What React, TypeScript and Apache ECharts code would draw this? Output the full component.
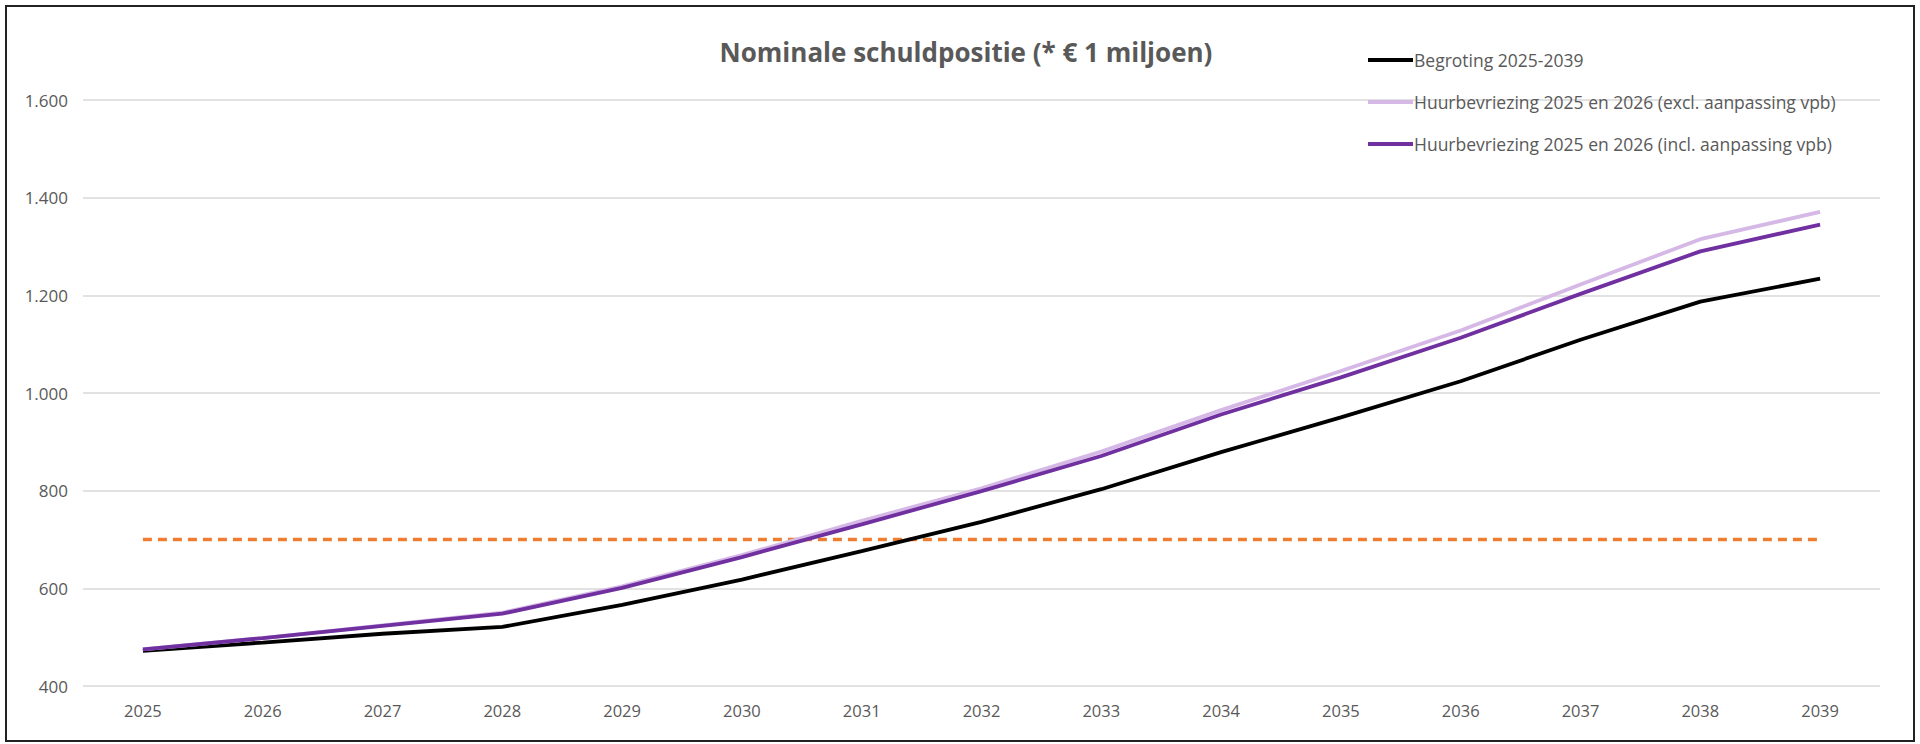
import React, { useEffect, useRef } from "react";
import * as echarts from "echarts";

const years = ["2025","2026","2027","2028","2029","2030","2031","2032","2033","2034","2035","2036","2037","2038","2039"];
const begroting = [472, 489, 507, 521, 566, 618, 676, 736, 803, 879, 950, 1024, 1109, 1187, 1234];
const inclVpb = [475, 498, 523, 548, 601, 664, 731, 799, 871, 956, 1032, 1113, 1203, 1290, 1345];
const exclVpb = [475, 498, 524, 550, 604, 668, 738, 805, 880, 965, 1045, 1128, 1222, 1315, 1371];
const norm = years.map(() => 700);

const fmt = (v: number) => v.toLocaleString("nl-NL").replace(/,/g, ".");

export default function App() {
  const ref = useRef<HTMLDivElement>(null);
  useEffect(() => {
    const chart = echarts.init(ref.current!, undefined, { renderer: "svg" });
    const font = "'Open Sans', 'Liberation Sans', sans-serif";
    chart.setOption({
      animation: false,
      backgroundColor: "#ffffff",
      textStyle: { fontFamily: font },
      title: {
        text: "Nominale schuldpositie (* € 1 miljoen)",
        left: 961,
        textAlign: "center",
        top: 34,
        textStyle: { fontFamily: font, fontSize: 26, fontWeight: "bold", color: "#595959", letterSpacing: -0.3 },
      },
      legend: {
        left: 1363,
        top: 46,
        orient: "vertical",
        itemWidth: 45,
        itemHeight: 4,
        itemGap: 24,
        icon: "rect",
        textStyle: { fontFamily: font, fontSize: 17.5, color: "#595959", padding: [0, 0, 0, -4] },
        data: ["Begroting 2025-2039", "Huurbevriezing 2025 en 2026 (excl. aanpassing vpb)", "Huurbevriezing 2025 en 2026 (incl. aanpassing vpb)"],
      },
      grid: { left: 83, right: 40, top: 100, bottom: 58 },
      xAxis: {
        type: "category",
        data: years,
        boundaryGap: true,
        axisLine: { show: false },
        axisTick: { show: false },
        axisLabel: { color: "#595959", fontSize: 16.5, fontFamily: font, margin: 16 },
      },
      yAxis: {
        type: "value",
        min: 400,
        max: 1600,
        interval: 200,
        axisLine: { show: false },
        axisTick: { show: false },
        axisLabel: { color: "#595959", fontSize: 17, fontFamily: font, margin: 15, formatter: (v: number) => fmt(v) },
        splitLine: { lineStyle: { color: "#d9d9d9", width: 1.5 } },
      },
      graphic: [
        {
          type: "rect",
          shape: { x: 6, y: 6, width: 1908, height: 735 },
          style: { fill: "none", stroke: "#222", lineWidth: 2 },
          silent: true,
        },
      ],
      series: [
        {
          name: "Norm",
          type: "line",
          data: norm,
          symbol: "none",
          lineStyle: { color: "#ED7D31", width: 3.5, type: [9, 6] },
          itemStyle: { color: "#ED7D31" },
          z: 1,
        },
        {
          name: "Begroting 2025-2039",
          type: "line",
          data: begroting,
          symbol: "none",
          lineStyle: { color: "#000000", width: 3.8 },
          itemStyle: { color: "#000000" },
          z: 2,
        },
        {
          name: "Huurbevriezing 2025 en 2026 (excl. aanpassing vpb)",
          type: "line",
          data: exclVpb,
          symbol: "none",
          lineStyle: { color: "#D5B8E6", width: 3.8 },
          itemStyle: { color: "#D5B8E6" },
          z: 3,
        },
        {
          name: "Huurbevriezing 2025 en 2026 (incl. aanpassing vpb)",
          type: "line",
          data: inclVpb,
          symbol: "none",
          lineStyle: { color: "#7030A0", width: 3.8 },
          itemStyle: { color: "#7030A0" },
          z: 4,
        },
      ],
    });
    return () => chart.dispose();
  }, []);
  return (
    <div style={{ position: "fixed", left: 0, top: 0, width: 1920, height: 744, background: "#fff" }}>
      <div ref={ref} style={{ width: 1920, height: 744 }} />
    </div>
  );
}
